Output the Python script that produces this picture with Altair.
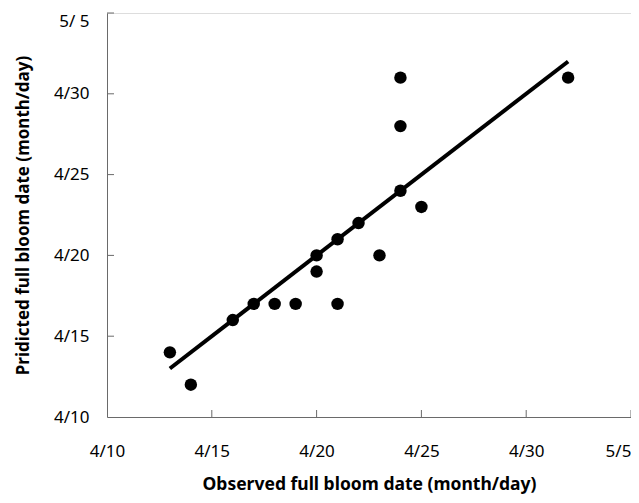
import altair as alt
import pandas as pd

# Day of April (31 = 5/1, 35 = 5/5)
observed = [13, 14, 16, 17, 18, 19, 20, 20, 21, 21, 22, 23, 24, 24, 24, 25, 32]
predicted = [14, 12, 16, 17, 17, 17, 19, 20, 21, 17, 22, 20, 24, 28, 31, 23, 31]
fit_x = [13, 32]
fit_y = [13, 32]
x_ticks = [10, 15, 20, 25, 30, 35]
x_tick_labels = ["4/10", "4/15", "4/20", "4/25", "4/30", "5/5"]
y_ticks = [10, 15, 20, 25, 30, 35]
y_tick_labels = ["4/10", "4/15", "4/20", "4/25", "4/30", "5/ 5"]

pts = pd.DataFrame({"obs": observed, "pred": predicted})
fit = pd.DataFrame({"obs": fit_x, "pred": fit_y})
xt = pd.DataFrame({"t": x_ticks[1:]})
yt = pd.DataFrame({"t": y_ticks[1:]})

FONT = "Noto Sans"
AX = "#6a6a6a"
W, H = 524, 404

xscale = alt.Scale(domain=[10, 35], nice=False, zero=False)
yscale = alt.Scale(domain=[10, 35], nice=False, zero=False)

def lab_expr(labels):
    arr = "[" + ",".join("'" + s + "'" for s in labels) + "]"
    return arr + "[round((datum.value - 10) / 5)]"

x_axis = alt.Axis(
    values=x_ticks, labelExpr=lab_expr(x_tick_labels), ticks=False, tickSize=0,
    grid=False, domainColor=AX, domainWidth=1, labelFont=FONT, labelFontSize=17,
    labelColor="black", labelPadding=39, labelBaseline="alphabetic", labelFlush=False,
    labelOffset={"condition": {"test": "datum.value === 35", "value": -13}, "value": 0},
    title="Observed full bloom date (month/day)", titleFont=FONT, titleFontSize=17.5,
    titleFontWeight="bold", titleColor="black", titleBaseline="alphabetic", titleY=72,
)
y_axis = alt.Axis(
    values=y_ticks, labelExpr=lab_expr(y_tick_labels), ticks=False, tickSize=0,
    grid=False, domainColor=AX, domainWidth=1, labelFont=FONT, labelFontSize=17,
    labelColor="black", labelPadding=18, labelBaseline="middle", labelFlush=False,
    labelOffset={"condition": {"test": "datum.value === 35", "value": 8}, "value": 0},
    title="Pridicted full bloom date (month/day)", titleFont=FONT, titleFontSize=17,
    titleFontWeight="bold", titleColor="black", titleBaseline="alphabetic", titleX=-79,
)

points = alt.Chart(pts).mark_circle(size=155, color="black", opacity=1).encode(
    x=alt.X("obs:Q", scale=xscale, axis=x_axis),
    y=alt.Y("pred:Q", scale=yscale, axis=y_axis),
)
line = alt.Chart(fit).mark_line(color="black", strokeWidth=4).encode(
    x=alt.X("obs:Q", scale=xscale),
    y=alt.Y("pred:Q", scale=yscale),
)
xticks = alt.Chart(xt).mark_rule(color=AX, strokeWidth=1).encode(
    x=alt.X("t:Q", scale=xscale),
    y=alt.value(H - 7), y2=alt.value(H),
)
yticks = alt.Chart(yt).mark_rule(color=AX, strokeWidth=1).encode(
    y=alt.Y("t:Q", scale=yscale),
    x=alt.value(0), x2=alt.value(7),
)

chart = alt.layer(points, line, xticks, yticks).properties(
    width=W, height=H,
    autosize=alt.AutoSizeParams(type="none"),
    padding={"left": 99, "top": 5, "right": 0, "bottom": 78},
).configure_view(stroke=None).configure(background="white")

chart.save("out.html", embed_options={"renderer": "svg", "actions": False})
